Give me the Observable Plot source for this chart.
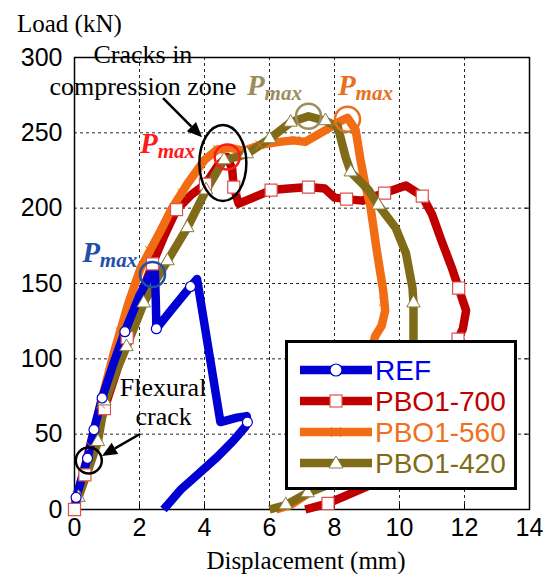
<!DOCTYPE html>
<html><head><meta charset="utf-8">
<script src="https://cdn.jsdelivr.net/npm/d3@7"></script>
<script src="https://cdn.jsdelivr.net/npm/@observablehq/plot@0.6"></script>
<style>body{margin:0;background:#fff}#chart{position:relative;width:550px;height:574px}</style>
</head><body><div id="chart"></div>
<script>
// ---- axes ----
const xTicks = [0, 2, 4, 6, 8, 10, 12, 14];
const yTicks = [0, 50, 100, 150, 200, 250, 300];
const xTitle = "Displacement (mm)";
const yTitle = "Load (kN)";

// ---- series ----
const seriesNames = ["REF", "PBO1-700", "PBO1-560", "PBO1-420"];
const seriesColors = ["#0000d2", "#c00000", "#f26c14", "#806c18"];

const refX = [0, 0.05, 0.4, 0.6, 0.85, 1.2, 1.55, 2.0, 2.35, 2.47, 2.5, 2.52, 3.0, 3.57, 3.77, 4.18, 4.49, 5.0, 5.3, 5.32, 5.26, 4.9, 4.4, 3.78, 3.26, 2.74];
const refY = [0, 8, 34, 53, 74, 97, 118, 142, 157, 160, 140, 120, 133, 148, 153, 99, 58, 61, 62, 58, 55, 46, 35, 23, 13, 0];
const refMarkX = [0.05, 0.4, 0.6, 0.85, 1.55, 2.52, 3.57, 5.32];
const refMarkY = [8, 34, 53, 74, 118, 120, 148, 58];

const p700X = [0, 0.32, 0.92, 1.3, 1.62, 1.95, 2.4, 2.75, 3.14, 3.6, 4.03, 4.4, 4.7, 4.85, 4.9, 5.05, 5.5, 6.05, 6.6, 7.2, 7.7, 8.0, 8.37, 8.86, 9.54, 10.2, 10.7, 11.0, 11.3, 11.6, 11.82, 12.05, 11.95, 11.8, 11.5, 11.0, 10.2, 9.3, 8.55, 7.8, 7.1];
const p700Y = [0, 23, 67, 92, 114, 137, 163, 181, 199, 209, 216, 228, 234, 226, 214, 203, 207, 212, 213, 214, 213, 207, 206, 205, 210, 215, 208, 196, 178, 161, 147, 132, 120, 113, 85, 55, 32, 18, 11, 4, 0];
const p700MarkX = [0, 0.32, 0.92, 1.62, 2.4, 3.14, 4.03, 4.9, 6.05, 7.2, 8.37, 9.54, 10.7, 11.82, 11.8, 7.8];
const p700MarkY = [0, 23, 67, 114, 163, 199, 216, 214, 212, 214, 206, 210, 208, 147, 113, 4];

const p560X = [0, 0.3, 0.8, 1.2, 1.66, 2.03, 2.65, 3.0, 3.47, 4.0, 4.4, 4.8, 5.2, 5.72, 6.3, 6.74, 7.1, 7.5, 7.9, 8.2, 8.4, 8.65, 8.8, 8.95, 9.1, 9.3, 9.5, 9.56, 9.45, 9.25, 9.0, 8.6, 8.0, 7.35, 6.65, 6.2];
const p560Y = [0, 27, 70, 103, 137, 160, 185, 200, 216, 232, 239, 240, 238, 242, 244, 245, 244, 249, 254, 258, 260, 252, 232, 215, 202, 172, 145, 132, 122, 115, 95, 60, 30, 13, 3, 0];
const p560MarkX = [0.08, 0.5, 0.8, 1.4, 2.3, 3.3, 4.4, 5.7, 6.8, 8.0, 9.5];
const p560MarkY = [9, 42, 70, 118, 172, 210, 239, 242, 245, 256, 138];

const p420X = [0, 0.12, 0.45, 0.72, 0.92, 1.25, 1.6, 2.13, 2.5, 2.86, 3.47, 4.05, 4.6, 5.0, 5.3, 6.0, 6.65, 7.2, 7.72, 8.1, 8.34, 8.5, 9.05, 9.35, 9.88, 10.2, 10.4, 10.43, 10.43, 10.43, 10.0, 9.0, 8.0, 7.17, 6.5, 6.0];
const p420Y = [0, 8, 28, 45, 70, 90, 108, 137, 152, 165, 187, 212, 232, 234, 236, 246, 257, 261, 258, 254, 234, 224, 212, 202, 187, 170, 147, 137, 100, 70, 45, 28, 18, 11, 3, 0];
const p420MarkX = [0.12, 0.72, 0.92, 1.6, 2.13, 2.86, 3.47, 4.05, 4.6, 5.3, 6.0, 6.65, 7.72, 8.5, 9.35, 10.43, 7.17, 6.5];
const p420MarkY = [8, 45, 72, 108, 137, 165, 187, 212, 232, 236, 246, 257, 258, 224, 202, 137, 11, 3];

// ---- annotations ----
const pmaxX = [2.4, 4.7, 7.2, 8.4];
const pmaxY = [156, 234, 261, 259];
const pmaxColors = ["#1f4fa8", "#ff1a1a", "#9c8d5c", "#e8701e"];
const pmaxLabelX = [0.25, 2.03, 5.32, 8.12];
const pmaxLabelY = [164, 236, 275, 275];
const noteLines = ["Cracks in", "compression zone", "Flexural", "crack"];
const noteX = [2.12, 2.12, 2.74, 2.76];
const noteY = [296, 275, 75, 56];
const arrowFrom = [[2.74, 272.7], [2.03, 49.8]];
const arrowTo = [[3.94, 246.8], [0.86, 35.2]];
const flexCircle = [0.44, 32.5];
const crackEllipse = [4.58, 229.6];

const rows = (xs, ys) => xs.map((x, i) => ({x, y: ys[i]}));
const lineOpts = (c) => ({x: "x", y: "y", stroke: c, strokeWidth: 8.5, strokeLinejoin: "round", strokeLinecap: "butt"});

const plot = Plot.plot({
  width: 550, height: 574,
  marginLeft: 74, marginRight: 21, marginTop: 57, marginBottom: 65,
  x: {domain: [0, 14]},
  y: {domain: [0, 300]},
  style: {fontFamily: "'Liberation Sans', Arial, sans-serif", fontSize: "25px", background: "#fff", color: "#000", overflow: "visible"},
  marks: [
    Plot.gridX(xTicks, {stroke: "#000", strokeOpacity: 0.85, strokeDasharray: "3,3", strokeWidth: 1}),
    Plot.gridY(yTicks, {stroke: "#000", strokeOpacity: 0.85, strokeDasharray: "3,3", strokeWidth: 1}),
    Plot.axisX(xTicks, {tickSize: 0, tickPadding: 9, label: null, fontSize: 25}),
    Plot.axisY(yTicks, {tickSize: 0, tickPadding: 12, label: null, fontSize: 25}),
    Plot.axisX(xTicks, {anchor: "bottom", tickSize: -5, fill: "none", label: null}),
    Plot.axisY(yTicks, {anchor: "right", tickSize: -5, fill: "none", label: null}),
    Plot.frame({stroke: "#000", strokeWidth: 1.5}),
    Plot.line(rows(p700X, p700Y), lineOpts(seriesColors[1])),
    Plot.line(rows(p560X, p560Y), lineOpts(seriesColors[2])),
    Plot.line(rows(p420X, p420Y), lineOpts(seriesColors[3])),
    Plot.line(rows(refX, refY), lineOpts(seriesColors[0])),
    Plot.dot(rows(p700MarkX, p700MarkY), {x: "x", y: "y", symbol: "square", r: 6.8, fill: "#fff", stroke: "#e05050", strokeWidth: 1.2}),
    Plot.dot(rows(p560MarkX, p560MarkY), {x: "x", y: "y", symbol: "times", r: 4, stroke: "#f26c14", strokeWidth: 1}),
    Plot.dot(rows(p420MarkX, p420MarkY), {x: "x", y: "y", symbol: "triangle", r: 5, fill: "#fff", stroke: "#8b7b3b", strokeWidth: 1}),
    Plot.dot(rows(refMarkX, refMarkY), {x: "x", y: "y", r: 5, fill: "#fff", stroke: "#0000d2", strokeWidth: 1.2}),
    ...pmaxX.map((x, i) => Plot.dot([{x, y: pmaxY[i]}], {x: "x", y: "y", r: 12.5, fill: "none", stroke: pmaxColors[i], strokeWidth: 2.5})),
    Plot.dot([{x: flexCircle[0], y: flexCircle[1]}], {x: "x", y: "y", r: 13, fill: "none", stroke: "#000", strokeWidth: 2.5})
  ]
});

document.getElementById("chart").appendChild(plot);
const sx = plot.scale("x"), sy = plot.scale("y");
const X = v => sx.apply(v), Y = v => sy.apply(v);
const svg = d3.select(plot);
const serif = "'Liberation Serif', 'Times New Roman', serif";

// ellipse around compression cracks
svg.append("ellipse").attr("cx", X(crackEllipse[0])).attr("cy", Y(crackEllipse[1]))
  .attr("rx", 23.5).attr("ry", 38).attr("fill", "none").attr("stroke", "#000").attr("stroke-width", 2.5);

// arrows
arrowFrom.forEach((f, i) => {
  const x1 = X(f[0]), y1 = Y(f[1]), x2 = X(arrowTo[i][0]), y2 = Y(arrowTo[i][1]);
  const a = Math.atan2(y2 - y1, x2 - x1), L = 15, W = 6.5;
  const bx = x2 - L * Math.cos(a), by = y2 - L * Math.sin(a);
  svg.append("line").attr("x1", x1).attr("y1", y1).attr("x2", bx).attr("y2", by)
    .attr("stroke", "#000").attr("stroke-width", 2.5);
  svg.append("polygon").attr("points", [
    [x2, y2],
    [bx + W * Math.sin(a), by - W * Math.cos(a)],
    [bx - W * Math.sin(a), by + W * Math.cos(a)]
  ].map(p => p.join(",")).join(" ")).attr("fill", "#000");
});

// notes
noteLines.forEach((t, i) => {
  svg.append("text").attr("x", X(noteX[i])).attr("y", Y(noteY[i])).attr("text-anchor", "middle")
    .attr("font-family", serif).attr("font-size", 26).attr("fill", "#000").text(t);
});

// Pmax labels
pmaxLabelX.forEach((x, i) => {
  const t = svg.append("text").attr("x", X(x)).attr("y", Y(pmaxLabelY[i])).attr("text-anchor", "start")
    .attr("font-family", serif).attr("font-weight", "bold").attr("font-style", "italic").attr("fill", pmaxColors[i]);
  t.append("tspan").attr("font-size", 29).text("P");
  t.append("tspan").attr("font-size", 21).attr("dy", 5).text("max");
});

// axis titles
svg.append("text").attr("x", 17).attr("y", 32).attr("text-anchor", "start").attr("font-family", serif).attr("font-size", 25).attr("fill", "#000").text(yTitle);
svg.append("text").attr("x", 306).attr("y", 569).attr("text-anchor", "middle").attr("font-family", serif).attr("font-size", 25).attr("fill", "#000").text(xTitle);

// legend
const lg = svg.append("g");
lg.append("rect").attr("x", 286.5).attr("y", 341.5).attr("width", 229).attr("height", 147)
  .attr("fill", "#fff").attr("stroke", "#000").attr("stroke-width", 3);
const legendText = ["#0000ee", "#c00000", "#f07020", "#806c18"];
seriesNames.forEach((name, i) => {
  const cy = 370 + i * 31;
  lg.append("line").attr("x1", 300).attr("x2", 372).attr("y1", cy).attr("y2", cy)
    .attr("stroke", seriesColors[i]).attr("stroke-width", 8.5);
  if (i === 0) lg.append("circle").attr("cx", 336).attr("cy", cy).attr("r", 6).attr("fill", "#fff").attr("stroke", "#0000d2").attr("stroke-width", 1.2);
  if (i === 1) lg.append("rect").attr("x", 330).attr("y", cy - 6).attr("width", 12).attr("height", 12).attr("fill", "#fff").attr("stroke", "#e05050").attr("stroke-width", 1.2);
  if (i === 2) lg.append("path").attr("d", `M${331},${cy - 5}L${341},${cy + 5}M${331},${cy + 5}L${341},${cy - 5}`).attr("stroke", "#f26c14").attr("stroke-width", 1);
  if (i === 3) lg.append("path").attr("d", `M336,${cy - 7}L343,${cy + 5}L329,${cy + 5}Z`).attr("fill", "#fff").attr("stroke", "#8b7b3b").attr("stroke-width", 1);
  lg.append("text").attr("x", 375).attr("y", cy + 10).attr("text-anchor", "start").attr("font-family", "'Liberation Sans', Arial, sans-serif")
    .attr("font-size", 28).attr("fill", legendText[i]).text(name);
});
</script>
</body></html>
